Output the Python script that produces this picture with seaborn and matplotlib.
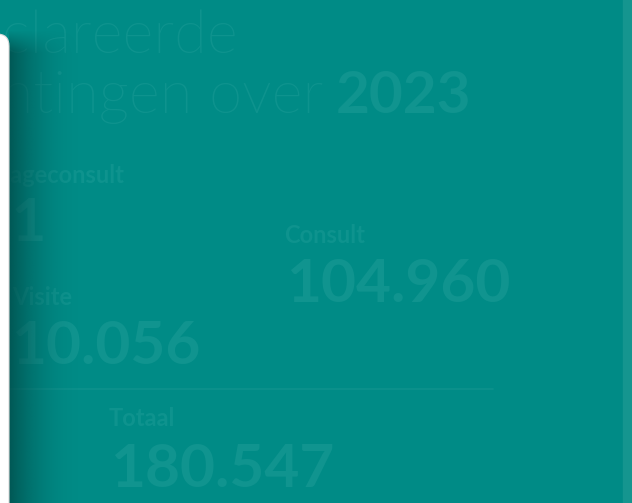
import numpy as np
import matplotlib
matplotlib.use("Agg")
import matplotlib.pyplot as plt
from matplotlib.patches import Rectangle, FancyBboxPatch
import seaborn as sns

# ---- data ----
title_lines = ["Gedeclareerde", "verrichtingen over"]
year = "2023"
categories = ["Triageconsult", "Consult", "Visite"]
values = [65531, 104960, 10056]
total_label = "Totaal"
total_value = 180547

def fmt(v):
    return f"{v:,}".replace(",", ".")

sns.set_theme(style="white")
plt.rcParams["font.family"] = ["Lato", "DejaVu Sans"]

BG = "#008B86"
TXT = "#0E938E"
TXT_B = "#10948F"

fig = plt.figure(figsize=(6.32, 5.03), dpi=100)
fig.patch.set_facecolor(BG)
ax = fig.add_axes([0, 0, 1, 1])
ax.set_xlim(0, 632)
ax.set_ylim(503, 0)
ax.set_axis_off()
ax.set_facecolor(BG)

# right strip
ax.add_patch(Rectangle((623, -5), 20, 520, color="#15958F", zorder=1))

# title
ax.text(238, 53, title_lines[0], ha="right", va="baseline", fontsize=43,
        fontweight=275, color=TXT, zorder=2)
ax.text(323, 113, title_lines[1], ha="right", va="baseline", fontsize=43,
        fontweight=275, color=TXT, zorder=2)
ax.text(471, 113, year, ha="right", va="baseline", fontsize=42,
        fontweight="bold", color=TXT_B, zorder=2)

# stats
label_pos = [(124, 183, "right"), (284, 243, "left"), (12, 305, "left")]
value_pos = [(47, 241, "right"), (286, 302, "left"), (11, 364, "left")]
for cat, val, lp, vp in zip(categories, values, label_pos, value_pos):
    ax.text(lp[0], lp[1], cat, ha=lp[2], va="baseline", fontsize=17,
            fontweight="bold", color=TXT, zorder=2)
    ax.text(vp[0], vp[1], fmt(val), ha=vp[2], va="baseline", fontsize=43.5,
            fontweight="bold", color=TXT_B, zorder=2)

# separator
ax.plot([10, 493], [388.5, 388.5], color="#0E928D", lw=1.2, zorder=2)

ax.text(109, 426, total_label, ha="left", va="baseline", fontsize=17,
        fontweight="bold", color=TXT, zorder=2)
ax.text(110, 487, fmt(total_value), ha="left", va="baseline", fontsize=43.5,
        fontweight="bold", color=TXT_B, zorder=2)

# shadow gradient next to the white panel (fading in at the top)
w, h = 200, 470
tx = np.linspace(0, 1, w)
ty = np.linspace(0, 1, h)
ax_alpha = 0.75 * (1 - tx) ** 2.2
ay = np.clip((ty * 470) / 22, 0, 1)  # vertical fade over top ~22 px
grad = np.zeros((h, w, 4))
grad[..., 1] = 70 / 255
grad[..., 2] = 68 / 255
grad[..., 3] = ay[:, None] * ax_alpha[None, :]
ax.imshow(grad, extent=[9, 85, 503, 30], aspect="auto", zorder=3,
          interpolation="bilinear", origin="upper")

# white panel
ax.add_patch(FancyBboxPatch((-30, 34), 39, 600,
                            boxstyle="round,pad=0,rounding_size=12",
                            facecolor="white", edgecolor="#DADADA", lw=0.8,
                            zorder=4))
ax.set_xlim(0, 632)
ax.set_ylim(503, 0)

fig.savefig("out.png", dpi=100, facecolor=BG)
